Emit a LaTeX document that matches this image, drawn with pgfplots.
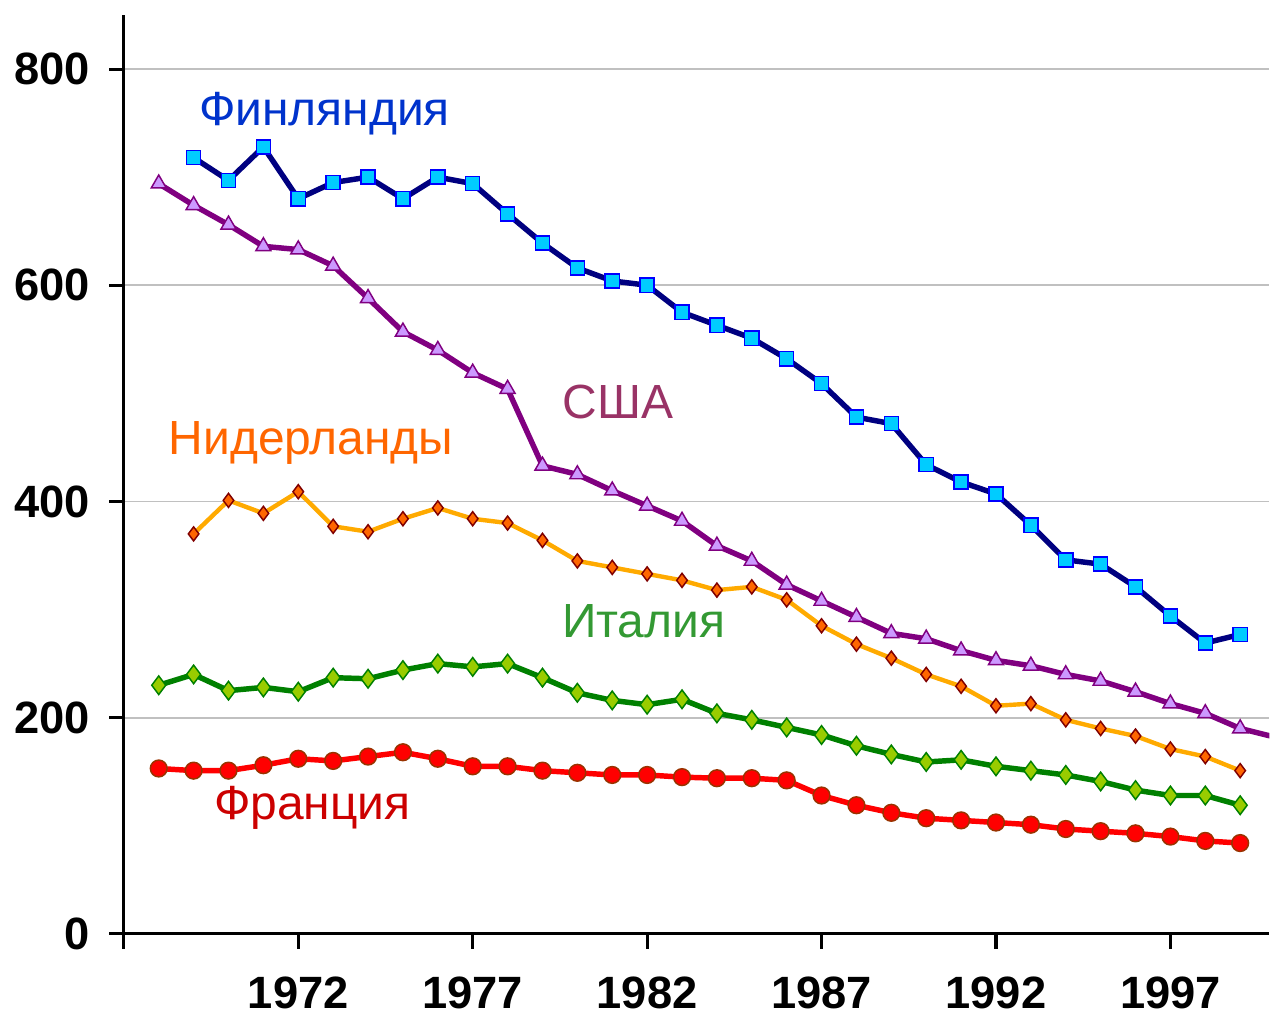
\documentclass[border=0pt]{standalone}
\usepackage{pgfplots}
\pgfplotsset{compat=1.18}
\usepackage{fontspec}
\setmainfont{Liberation Sans}
\definecolor{finL}{RGB}{0,0,128}
\definecolor{finF}{RGB}{0,204,255}
\definecolor{finE}{RGB}{0,0,255}
\definecolor{usaL}{RGB}{128,0,128}
\definecolor{usaF}{RGB}{204,153,255}
\definecolor{nedL}{RGB}{255,170,0}
\definecolor{nedF}{RGB}{255,102,0}
\definecolor{nedE}{RGB}{128,0,0}
\definecolor{itaL}{RGB}{0,128,0}
\definecolor{itaF}{RGB}{153,204,0}
\definecolor{fraL}{RGB}{255,0,0}
\definecolor{fraE}{RGB}{153,51,0}
\definecolor{tFin}{RGB}{0,51,204}
\definecolor{tUsa}{RGB}{153,51,102}
\definecolor{tNed}{RGB}{255,102,0}
\definecolor{tIta}{RGB}{51,153,51}
\definecolor{tFra}{RGB}{204,0,0}
\begin{document}
\begin{tikzpicture}
\begin{axis}[
  scale only axis,
  width=860.25pt, height=690pt,
  xmin=1967, xmax=1999.84, ymin=0, ymax=850,
  axis lines=left,
  axis line style={-, line width=2.3pt, black},
  xtick={1967,1972,1977,1982,1987,1992,1997},
  xticklabels={,1972,1977,1982,1987,1992,1997},
  ytick={0,200,400,600,800},
  tick align=outside,
  major tick length=11pt,
  tick style={line width=2.3pt, black},
  ymajorgrids,
  grid style={line width=1.4pt, color={rgb,255:red,192;green,192;blue,192}},
  /pgf/number format/assume math mode=true,
  ticklabel style={font=\fontsize{34}{40}\selectfont\bfseries},
  xticklabel style={yshift=-18pt},
  yticklabel style={xshift=-11pt},
  clip=true,
]
% Finland
\addplot[color=finL, line width=4.1pt, mark=square*, mark size=5.3pt,
  mark options={fill=finF, draw=finE, line width=1.1pt}] coordinates {
(1969,718) (1970,697) (1971,728) (1972,680) (1973,695) (1974,700) (1975,680)
(1976,700) (1977,694) (1978,666) (1979,639) (1980,616) (1981,604) (1982,600)
(1983,575) (1984,563) (1985,551) (1986,532) (1987,509) (1988,478) (1989,472)
(1990,434) (1991,418) (1992,407) (1993,378) (1994,346) (1995,342) (1996,321)
(1997,294) (1998,269) (1999,277)};
% USA
\addplot[color=usaL, line width=4.1pt, mark=triangle*, mark size=6.5pt,
  mark indices={1,...,32},
  mark options={fill=usaF, draw=usaL, line width=1.1pt}] coordinates {
(1968,694) (1969,674) (1970,656) (1971,636) (1972,633) (1973,618) (1974,588)
(1975,557) (1976,540) (1977,519) (1978,504) (1979,433) (1980,425) (1981,410)
(1982,396) (1983,382) (1984,359) (1985,345) (1986,323) (1987,308) (1988,293)
(1989,278) (1990,273) (1991,262) (1992,253) (1993,248) (1994,240) (1995,234)
(1996,224) (1997,213) (1998,204) (1999,190) (2000,182)};
% Netherlands
\addplot[color=nedL, line width=3.3pt, mark=diamond*, mark size=5.3pt,
  mark options={fill=nedF, draw=nedE, line width=1.1pt}] coordinates {
(1969,370) (1970,401) (1971,389) (1972,409) (1973,377) (1974,372) (1975,384)
(1976,394) (1977,384) (1978,380) (1979,364) (1980,345) (1981,339) (1982,333)
(1983,327) (1984,318) (1985,321) (1986,309) (1987,285) (1988,268) (1989,255)
(1990,240) (1991,229) (1992,211) (1993,213) (1994,198) (1995,190) (1996,183)
(1997,171) (1998,164) (1999,151)};
% Italy
\addplot[color=itaL, line width=4.1pt, mark=diamond*, mark size=7pt,
  mark options={fill=itaF, draw=itaL, line width=1.1pt}] coordinates {
(1968,230) (1969,240) (1970,225) (1971,228) (1972,224) (1973,237) (1974,236)
(1975,244) (1976,250) (1977,247) (1978,250) (1979,237) (1980,223) (1981,216)
(1982,212) (1983,217) (1984,204) (1985,198) (1986,191) (1987,184) (1988,174)
(1989,166) (1990,159) (1991,161) (1992,155) (1993,151) (1994,147) (1995,141)
(1996,133) (1997,128) (1998,128) (1999,119)};
% France
\addplot[color=fraL, line width=4.1pt, mark=*, mark size=6.3pt,
  mark options={fill=fraL, draw=fraE, line width=1.1pt}] coordinates {
(1968,153) (1969,151) (1970,151) (1971,156) (1972,162) (1973,160) (1974,164)
(1975,168) (1976,162) (1977,155) (1978,155) (1979,151) (1980,149) (1981,147)
(1982,147) (1983,145) (1984,144) (1985,144) (1986,142) (1987,128) (1988,119)
(1989,112) (1990,107) (1991,105) (1992,103) (1993,101) (1994,97) (1995,95)
(1996,93) (1997,90) (1998,86) (1999,84)};
\node[anchor=base, text=tFin, font=\fontsize{36}{42}\selectfont] at (axis cs:1972.75,748) {Финляндия};
\node[anchor=base, text=tNed, font=\fontsize{36}{42}\selectfont] at (axis cs:1972.37,443) {Нидерланды};
\node[anchor=base, text=tFra, font=\fontsize{36}{42}\selectfont] at (axis cs:1972.4,106) {Франция};
\node[anchor=base, text=tUsa, font=\fontsize{36}{42}\selectfont] at (axis cs:1981.17,477) {США};
\node[anchor=base, text=tIta, font=\fontsize{36}{42}\selectfont] at (axis cs:1981.9,274) {Италия};
\end{axis}
\path (current axis.south west) ++(-93pt,-64.5pt) rectangle ++(953.25pt,765.75pt);
\end{tikzpicture}
\end{document}
